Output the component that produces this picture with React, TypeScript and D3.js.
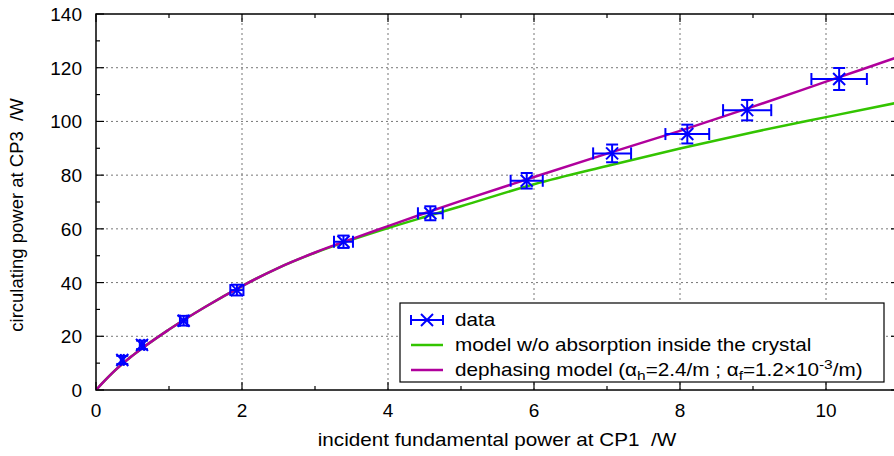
import React from "react";
import * as d3 from "d3";

// measured data (incident power /W, circulating power /W) with errors
const dataX = [0.36, 0.63, 1.2, 1.93, 3.39, 4.58, 5.9, 7.07, 8.1, 8.92, 10.18];
const dataY = [11.2, 16.8, 25.8, 37.2, 55.2, 65.8, 77.9, 88.1, 95.3, 104.2, 115.8];
const dataXErr = [0.02, 0.03, 0.05, 0.09, 0.13, 0.17, 0.22, 0.26, 0.3, 0.33, 0.38];
const dataYErr = [1.5, 1.6, 1.8, 2.0, 2.3, 2.6, 2.9, 3.3, 3.5, 3.8, 4.1];

// model curves
const modelX = [0, 0.1, 0.25, 0.5, 1, 1.5, 2, 2.5, 3, 3.5, 4, 4.5, 5, 6, 7, 8, 9, 10, 11];
const noAbsY = [0, 2.9, 7.0, 12.8, 22.5, 31.0, 38.7, 45.5, 51.1, 55.9, 60.3, 64.4, 68.4, 76.6, 83.4, 89.9, 96.0, 101.6, 107.1];
const dephY = [0, 2.9, 7.0, 12.8, 22.5, 31.0, 38.7, 45.5, 51.2, 56.2, 61.0, 65.8, 70.4, 79.3, 88.0, 96.5, 105.5, 114.8, 124.1];

const xMajor = [0, 2, 4, 6, 8, 10];
const xMinor = [1, 3, 5, 7, 9, 11];
const yMajor = [0, 20, 40, 60, 80, 100, 120, 140];
const yMinor = [10, 30, 50, 70, 90, 110, 130];

const xTitle = "incident fundamental power at CP1  /W";
const yTitle = "circulating power at CP3  /W";
const legendLabels = ["data", "model w/o absorption inside the crystal"];

const W = 894;
const H = 456;
const L = 96, R = 899, T = 14, B = 390;
const FONT = "'Liberation Sans', Arial, Helvetica, sans-serif";
const BLUE = "#0000ff";
const GREEN = "#33c400";
const MAGENTA = "#b0009c";
const SX = 1.15;

export default function App() {
  const x = d3.scaleLinear().domain([0, 11]).range([L, R]);
  const y = d3.scaleLinear().domain([0, 140]).range([B, T]);
  const line = d3
    .line<number>()
    .x((_, i) => x(modelX[i]))
    .y((d) => y(d))
    .curve(d3.curveMonotoneX);

  const majLen = 8;
  const minLen = 4;

  const errMark = (cx: number, cy: number, x0: number, x1: number, y0: number, y1: number, key: string) => {
    const cap = 6;
    const s = 6;
    return (
      <g key={key} stroke={BLUE} strokeWidth={2} fill="none">
        <line x1={x0} x2={x1} y1={cy} y2={cy} />
        <line x1={x0} x2={x0} y1={cy - cap} y2={cy + cap} />
        <line x1={x1} x2={x1} y1={cy - cap} y2={cy + cap} />
        <line x1={cx} x2={cx} y1={y0} y2={y1} />
        <line x1={cx - cap} x2={cx + cap} y1={y0} y2={y0} />
        <line x1={cx - cap} x2={cx + cap} y1={y1} y2={y1} />
        <line x1={cx - s} x2={cx + s} y1={cy - s} y2={cy + s} />
        <line x1={cx - s} x2={cx + s} y1={cy + s} y2={cy - s} />
      </g>
    );
  };

  const lgX = 400, lgY = 303, lgW = 484, lgH = 79;
  const rows = [320, 345, 370];

  return (
    <svg width={W} height={H} style={{ position: "absolute", left: 0, top: 0, background: "#fff" }} fontFamily={FONT}>
      <defs>
        <clipPath id="plot">
          <rect x={L} y={T} width={R - L} height={B - T} />
        </clipPath>
      </defs>
      {/* grid */}
      <g stroke="#777" strokeWidth={1} strokeDasharray="2,3">
        {xMajor.filter((v) => v > 0).map((v) => (
          <line key={"gx" + v} x1={x(v)} x2={x(v)} y1={B} y2={T} />
        ))}
        {yMajor.filter((v) => v > 0 && v < 140).map((v) => (
          <line key={"gy" + v} x1={L} x2={R} y1={y(v)} y2={y(v)} />
        ))}
      </g>
      {/* ticks */}
      <g stroke="#000" strokeWidth={1.2}>
        {xMajor.map((v) => (
          <g key={"tx" + v}>
            <line x1={x(v)} x2={x(v)} y1={B} y2={B - majLen} />
            <line x1={x(v)} x2={x(v)} y1={T} y2={T + majLen} />
          </g>
        ))}
        {xMinor.map((v) => (
          <g key={"tmx" + v}>
            <line x1={x(v)} x2={x(v)} y1={B} y2={B - minLen} />
            <line x1={x(v)} x2={x(v)} y1={T} y2={T + minLen} />
          </g>
        ))}
        {yMajor.map((v) => (
          <g key={"ty" + v}>
            <line x1={L} x2={L + majLen} y1={y(v)} y2={y(v)} />
            <line x1={R} x2={R - majLen} y1={y(v)} y2={y(v)} />
          </g>
        ))}
        {yMinor.map((v) => (
          <g key={"tmy" + v}>
            <line x1={L} x2={L + minLen} y1={y(v)} y2={y(v)} />
            <line x1={R} x2={R - minLen} y1={y(v)} y2={y(v)} />
          </g>
        ))}
      </g>
      {/* tick labels */}
      <g fontSize={19} fill="#000">
        {xMajor.map((v) => (
          <text key={"lx" + v} x={x(v)} y={B + 27} textAnchor="middle">{v}</text>
        ))}
        {yMajor.map((v) => (
          <text key={"ly" + v} x={L - 14} y={y(v) + 7} textAnchor="end">{v}</text>
        ))}
      </g>
      {/* axis titles */}
      <text transform={`translate(497, 446) scale(${SX}, 1)`} textAnchor="middle" fontSize={18} style={{ whiteSpace: "pre" }}>
        {xTitle}
      </text>
      <text transform={`translate(23, 215) rotate(-90)`} textAnchor="middle" fontSize={18.5} style={{ whiteSpace: "pre" }}>
        {yTitle}
      </text>
      {/* curves */}
      <g clipPath="url(#plot)" fill="none" strokeWidth={2.5}>
        <path d={line(noAbsY) || ""} stroke={GREEN} />
        <path d={line(dephY) || ""} stroke={MAGENTA} />
      </g>
      {/* data */}
      <g>
        {dataX.map((v, i) =>
          errMark(x(v), y(dataY[i]), x(v - dataXErr[i]), x(v + dataXErr[i]), y(dataY[i] - dataYErr[i]), y(dataY[i] + dataYErr[i]), "d" + i)
        )}
      </g>
      {/* legend */}
      <rect x={lgX} y={lgY} width={lgW} height={lgH} fill="#fff" stroke="#000" strokeWidth={1.2} />
      <g stroke={BLUE} strokeWidth={2}>
        <line x1={411} x2={443} y1={rows[0]} y2={rows[0]} />
        <line x1={411} x2={411} y1={rows[0] - 5} y2={rows[0] + 5} />
        <line x1={443} x2={443} y1={rows[0] - 5} y2={rows[0] + 5} />
        <line x1={421} x2={433} y1={rows[0] - 6} y2={rows[0] + 6} />
        <line x1={421} x2={433} y1={rows[0] + 6} y2={rows[0] - 6} />
      </g>
      <line x1={411} x2={443} y1={rows[1]} y2={rows[1]} stroke={GREEN} strokeWidth={2.5} />
      <line x1={411} x2={443} y1={rows[2]} y2={rows[2]} stroke={MAGENTA} strokeWidth={2.5} />
      <g fontSize={18} fill="#000">
        <text transform={`translate(455, ${rows[0] + 6}) scale(${SX}, 1)`}>{legendLabels[0]}</text>
        <text transform={`translate(455, ${rows[1] + 6}) scale(${SX}, 1)`}>{legendLabels[1]}</text>
        <text transform={`translate(455, ${rows[2] + 6}) scale(${SX}, 1)`}>
          dephasing model (α
          <tspan fontSize={13.5} dy={4}>h</tspan>
          <tspan dy={-4}>=2.4/m ; α</tspan>
          <tspan fontSize={13.5} dy={4}>f</tspan>
          <tspan dy={-4}>=1.2×10</tspan>
          <tspan fontSize={13.5} dy={-7}>-3</tspan>
          <tspan dy={7}>/m)</tspan>
        </text>
      </g>
      {/* frame */}
      <rect x={L} y={T} width={R - L} height={B - T} fill="none" stroke="#000" strokeWidth={1.5} />
    </svg>
  );
}
